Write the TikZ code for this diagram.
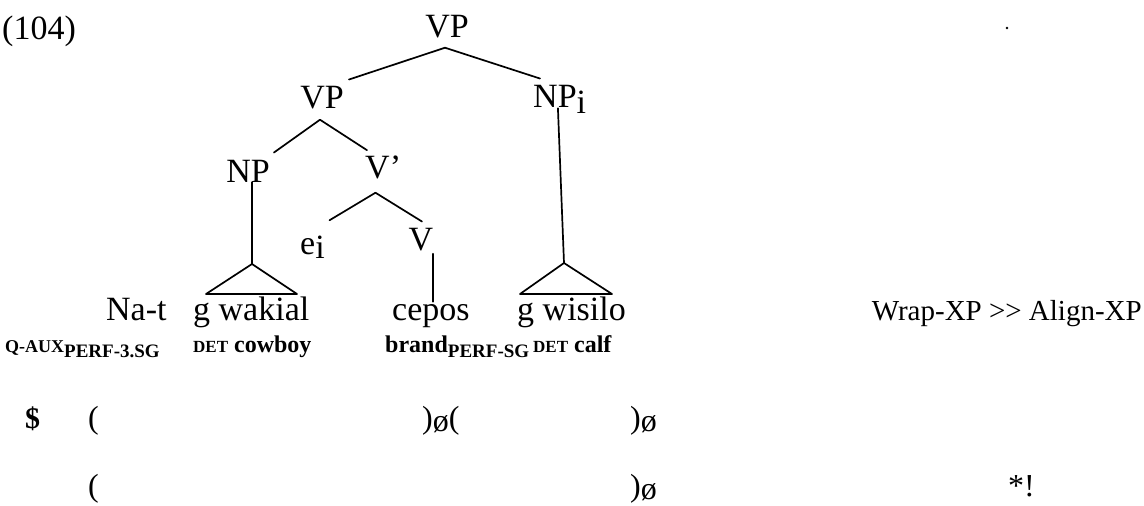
\documentclass[tikz,border=0pt]{standalone}
\usepackage{fontspec}
\setmainfont{Liberation Serif}[Ligatures=TeXOff]
\usetikzlibrary{calc}
\begin{document}
\begin{tikzpicture}[x=1pt,y=-1pt,
  lbl/.style={inner sep=0pt, anchor=base, font=\fontsize{34}{36}\selectfont},
  word/.style={inner sep=0pt, anchor=base west, font=\fontsize{34}{36}\selectfont},
  gl/.style={inner sep=0pt, anchor=base west, font=\fontsize{24}{26}\selectfont\bfseries},
  bnd/.style={inner sep=0pt, anchor=base west, font=\fontsize{32}{34}\selectfont},
  edge/.style={line width=1.7pt, line cap=round}]
\useasboundingbox (0,0) rectangle (1144,506);
% example number
\node[word] (ex) at (2,39) {(104)};
% tree labels
\node[lbl] (tvp) at (447,37) {VP};
\node[lbl] (lvp) at (322,108) {VP};
\node[lbl, anchor=base west] (npi) at (533,107) {NP\rlap{\raisebox{-6pt}{i}}};
\node[lbl] (np) at (248,182) {NP};
\node[lbl, anchor=base west] (vbar) at (365,178) {V\rlap{’}};
\node[lbl, anchor=base west] (ei) at (300,254) {e\rlap{\raisebox{-4pt}{i}}};
\node[lbl] (v) at (421,250) {V};
% triangles
\coordinate (t1) at (252,264);
\coordinate (t2) at (564,263);
\draw[edge, line join=round] (t1) -- ++(-46,30) -- ++(91,0) -- cycle;
\draw[edge, line join=round] (t2) -- ++(-44,31) -- ++(92,0) -- cycle;
% words
\node[word] (nat) at (106,320) {Na-t};
\node[word] (gwak) at (193,320) {g wakial};
\node[word] (cep) at (392,320) {cepos};
\node[word] (gwis) at (517,320) {g wisilo};
\node[word, anchor=base east, font=\fontsize{29}{31}\selectfont] (wrap) at (1142,320) {Wrap-XP >> Align-XP};
% glosses
\node[gl] (g1) at (5,352) {{\fontsize{18}{20}\selectfont Q-AUX}\raisebox{-5pt}{\fontsize{19}{20}\selectfont PERF-3.SG}};
\node[gl] (g2) at (193,352) {{\fontsize{17}{19}\selectfont DET} cowboy};
\node[gl] (g3) at (385,352) {brand\raisebox{-5pt}{\fontsize{19}{20}\selectfont PERF-SG}};
\node[gl] (g4) at (533,352) {{\fontsize{17}{19}\selectfont DET} calf};
% candidate rows
\node[bnd, font=\fontsize{30}{32}\selectfont\bfseries] (dol) at (25,428) {\$};
\node[bnd] (p1) at (88,428) {(};
\node[bnd] (p2) at (422,428) {)\raisebox{-3pt}{ø}(};
\node[bnd] (p3) at (630,428) {)\raisebox{-3pt}{ø}};
\node[bnd] (p4) at (88,496) {(};
\node[bnd] (p5) at (630,496) {)\raisebox{-3pt}{ø}};
\node[bnd] (star) at (1008,496) {*!};
% speck
\fill (1007,28) circle (1.3);
% branches
\draw[edge] ($(tvp.south)+(-2,10)$) -- ($(lvp.north east)+(5,-6)$);
\draw[edge] ($(tvp.south)+(-2,10)$) -- ($(npi.north west)+(7,-6)$);
\draw[edge] ($(lvp.south)+(-2,11)$) -- ($(np.north east)+(4,-7)$);
\draw[edge] ($(lvp.south)+(-2,11)$) -- ($(vbar.north west)+(2,-5)$);
\draw[edge] ($(vbar.south)+(-2,14)$) -- ($(ei.north east)+(14,-15)$);
\draw[edge] ($(vbar.south)+(-2,14)$) -- ($(v.north)+(1,-6)$);
\draw[edge] ($(v.south)+(12,3)$) -- ($(cep.north)+(2,-2)$);
\draw[edge] ($(np.south)+(4,0)$) -- (t1);
\draw[edge] ($(npi.south)+(3,-5)$) -- (t2);
\end{tikzpicture}
\end{document}
